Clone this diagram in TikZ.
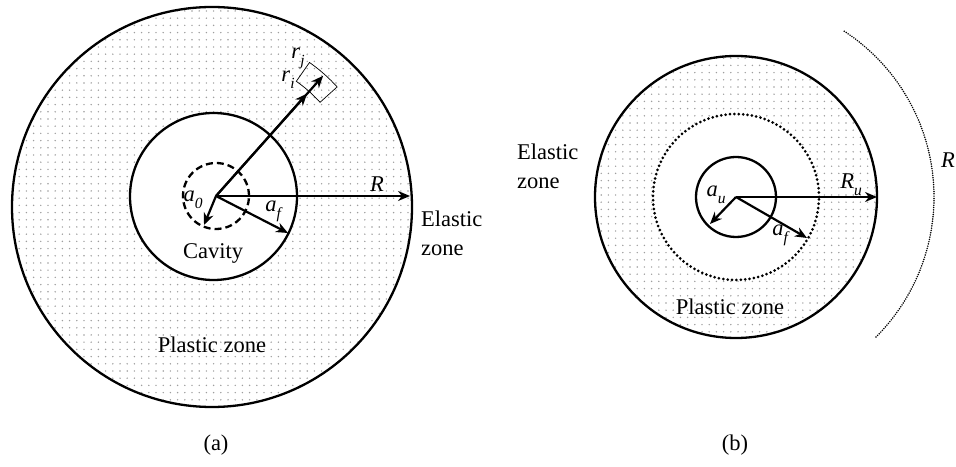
\documentclass[tikz,border=0pt]{standalone}
\usepackage{fontspec}
\setmainfont{Liberation Serif}
\usetikzlibrary{arrows.meta}
\newcommand\lsub[2]{\textit{#1}\raisebox{-0.3em}{\fontsize{15.5}{15.5}\selectfont\textit{#2}}}
\tikzset{
  lbl/.style={inner sep=0pt, font=\fontsize{22.5}{29}\selectfont},
  ring/.style={line width=2.3pt},
  arr/.style={line width=2.2pt, -{Stealth[length=12pt,width=10pt]}},
  dotc/.style={fill=black!38},
}
\begin{document}
\begin{tikzpicture}[x=1pt,y=1pt]
\useasboundingbox (0,0) rectangle (956,466);
% ---------- (a) ----------
\coordinate (ca) at (216,270);
\coordinate (oa) at (212,259);
\coordinate (ma) at (213.5,269.5);
\begin{scope}[even odd rule]
  \clip (oa) circle[radius=200] (ma) circle[radius=83.5];
  \foreach \i in {0,...,56}
    \foreach \j in {0,...,56}
      \fill[dotc] (12+\i*7.2, 59+\j*7.2) circle[radius=0.8];
\end{scope}
\draw[ring] (oa) circle[radius=200];
\draw[ring] (ma) circle[radius=83.5];
\draw[ring, dash pattern=on 7pt off 4pt] (ca) circle[radius=33];
\coordinate (Rend) at (410,270);
\coordinate (a0end) at (204,241);
\coordinate (afend) at (288,233);
\coordinate (riend) at (307,372.3);
\coordinate (rjend) at (323.1,390.2);
\draw[line width=0.7pt, shift={(216,270)}] (42:140) arc[start angle=42,end angle=55,radius=140]
   -- (55:163) arc[start angle=55,end angle=42,radius=163] -- cycle;
\draw[arr] (ca) -- (Rend);
\draw[arr] (ca) -- (a0end);
\draw[arr] (ca) -- (afend);
\draw[arr] (ca) -- (riend);
\draw[arr] (ca) -- (rjend);
\node[lbl] (tR) at (377,282) {\textit{R}};
\node[lbl] (trj) at (298,408) {\lsub{r}{j}};
\node[lbl] (tri) at (288,386) {\lsub{r}{i}};
\node[lbl] (ta0) at (193,266) {\lsub{a}{0}};
\node[lbl] (taf) at (274,255) {\lsub{a}{f}};
\node[lbl] (tcav) at (213,213) {Cavity};
\node[lbl] (tpa) at (212,121) {Plastic zone};
\node[lbl, anchor=base west, align=left] (tea) at (421,210) {Elastic\\zone};
\node[lbl] (tla) at (216,21) {(a)};
% ---------- (b) ----------
\coordinate (cb) at (736,269);
\begin{scope}[even odd rule]
  \clip (cb) circle[radius=141] (cb) circle[radius=83];
  \foreach \i in {0,...,40}
    \foreach \j in {0,...,40}
      \fill[dotc] (594+\i*7.2, 127+\j*7.2) circle[radius=0.8];
\end{scope}
\draw[ring] (cb) circle[radius=141];
\draw[line width=3pt, dash pattern=on 0pt off 4.4pt, line cap=round] (cb) circle[radius=83];
\draw[ring] (cb) circle[radius=40];
\draw[line width=1.7pt, dash pattern=on 0pt off 2.3pt, line cap=round, shift={(736,269)}]
   (-45:198) arc[start angle=-45,end angle=57,radius=198];
\coordinate (Ruend) at (877,269);
\coordinate (auend) at (710,242);
\coordinate (afbend) at (807,228);
\draw[arr] (cb) -- (Ruend);
\draw[arr] (cb) -- (auend);
\draw[arr] (cb) -- (afbend);
\node[lbl] (tRu) at (851,281) {\lsub{R}{u}};
\node[lbl] (tau) at (716,271) {\lsub{a}{u}};
\node[lbl] (tafb) at (781,231) {\lsub{a}{f}};
\node[lbl] (tpb) at (730,159) {Plastic zone};
\node[lbl, anchor=base west, align=left] (teb) at (517,277) {Elastic\\zone};
\node[lbl, anchor=east] (tRbig) at (955,306) {\textit{R}};
\node[lbl] (tlb) at (735,21) {(b)};
\end{tikzpicture}
\end{document}
